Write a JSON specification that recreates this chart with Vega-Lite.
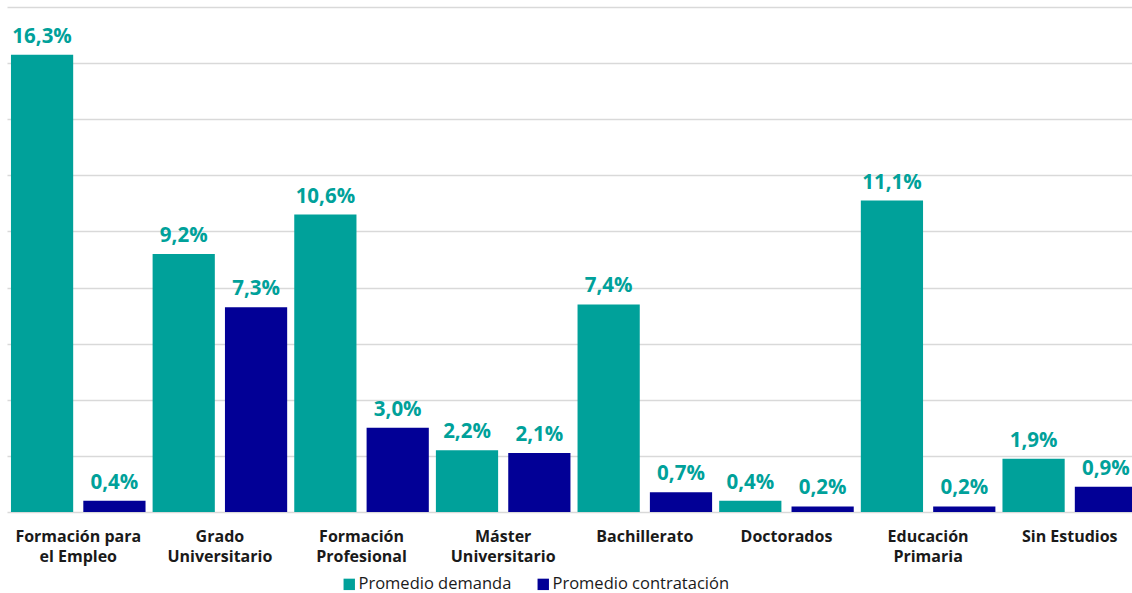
{
  "$schema": "https://vega.github.io/schema/vega-lite/v6.json",
  "width": 1134,
  "height": 505,
  "autosize": {"type": "none"},
  "padding": {"left": 7, "top": 7, "right": 0, "bottom": 81},
  "background": "white",
  "config": {
    "view": {"stroke": null},
    "font": "Open Sans"
  },
  "data": {
    "values": [
      {"cat": "Formación para el Empleo", "serie": "Promedio demanda", "v": 16.3},
      {"cat": "Formación para el Empleo", "serie": "Promedio contratación", "v": 0.4},
      {"cat": "Grado Universitario", "serie": "Promedio demanda", "v": 9.2},
      {"cat": "Grado Universitario", "serie": "Promedio contratación", "v": 7.3},
      {"cat": "Formación Profesional", "serie": "Promedio demanda", "v": 10.6},
      {"cat": "Formación Profesional", "serie": "Promedio contratación", "v": 3.0},
      {"cat": "Máster Universitario", "serie": "Promedio demanda", "v": 2.2},
      {"cat": "Máster Universitario", "serie": "Promedio contratación", "v": 2.1},
      {"cat": "Bachillerato", "serie": "Promedio demanda", "v": 7.4},
      {"cat": "Bachillerato", "serie": "Promedio contratación", "v": 0.7},
      {"cat": "Doctorados", "serie": "Promedio demanda", "v": 0.4},
      {"cat": "Doctorados", "serie": "Promedio contratación", "v": 0.2},
      {"cat": "Educación Primaria", "serie": "Promedio demanda", "v": 11.1},
      {"cat": "Educación Primaria", "serie": "Promedio contratación", "v": 0.2},
      {"cat": "Sin Estudios", "serie": "Promedio demanda", "v": 1.9},
      {"cat": "Sin Estudios", "serie": "Promedio contratación", "v": 0.9}
    ]
  },
  "encoding": {
    "x": {
      "field": "cat",
      "type": "nominal",
      "sort": null,
      "title": null,
      "scale": {"paddingInner": 0.05, "paddingOuter": 0.028},
      "axis": {
        "labelAngle": 0,
        "domain": false,
        "ticks": false,
        "labelFont": "Open Sans",
        "labelFontWeight": "bold",
        "labelFontSize": 16,
        "labelColor": "#1a1a1a",
        "labelPadding": 16,
        "labelLineHeight": 20,
        "labelLimit": 200,
        "labelExpr": "datum.value == 'Formación para el Empleo' ? ['Formación para', 'el Empleo'] : datum.value == 'Grado Universitario' ? ['Grado', 'Universitario'] : datum.value == 'Formación Profesional' ? ['Formación', 'Profesional'] : datum.value == 'Máster Universitario' ? ['Máster', 'Universitario'] : datum.value == 'Educación Primaria' ? ['Educación', 'Primaria'] : datum.value"
      }
    },
    "xOffset": {
      "field": "serie",
      "type": "nominal",
      "sort": ["Promedio demanda", "Promedio contratación"],
      "scale": {"paddingInner": 0.14, "paddingOuter": 0}
    },
    "y": {
      "field": "v",
      "type": "quantitative",
      "title": null,
      "scale": {"domain": [0, 18], "nice": false},
      "axis": {
        "values": [0, 2, 4, 6, 8, 10, 12, 14, 16, 18],
        "labels": false,
        "ticks": false,
        "domain": false,
        "grid": true,
        "gridColor": "#d9d9d9",
        "gridWidth": 1.5
      }
    }
  },
  "layer": [
    {
      "mark": {"type": "bar"},
      "encoding": {
        "color": {
          "field": "serie",
          "type": "nominal",
          "sort": ["Promedio demanda", "Promedio contratación"],
          "scale": {"domain": ["Promedio demanda", "Promedio contratación"], "range": ["#00A19A", "#020096"]},
          "legend": {
            "title": null,
            "orient": "none",
            "legendX": 334,
            "legendY": 569,
            "direction": "horizontal",
            "symbolType": "square",
            "symbolSize": 130,
            "symbolStrokeWidth": 0,
            "labelFont": "Open Sans",
            "labelFontSize": 16.5,
            "labelColor": "#1a1a1a",
            "labelLimit": 400,
            "columnPadding": 23,
            "labelOffset": 1
          }
        }
      }
    },
    {
      "mark": {
        "type": "text",
        "baseline": "bottom",
        "dy": -8,
        "font": "Open Sans",
        "fontWeight": "bold",
        "fontSize": 20.5,
        "color": "#00A19A",
        "text": {"expr": "replace(format(datum.v, '.1f'), '.', ',') + '%'"}
      },
      "encoding": {}
    }
  ]
}
